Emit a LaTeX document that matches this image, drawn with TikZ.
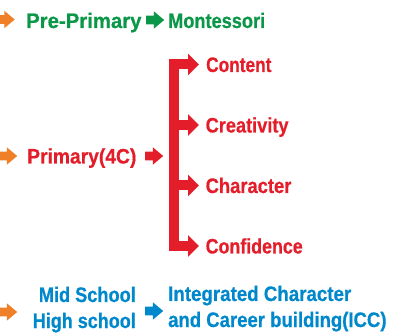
\documentclass[tikz,border=0pt]{standalone}
\usepackage{fontspec}
\setmainfont{Liberation Sans}[FakeStretch=0.857,BoldFeatures={FakeBold=0.6}]
\usetikzlibrary{shapes.arrows,arrows.meta}
\definecolor{cgreen}{RGB}{10,152,72}
\definecolor{cred}{RGB}{227,30,42}
\definecolor{cblue}{RGB}{0,136,204}
\definecolor{corange}{RGB}{240,128,40}
\tikzset{
  lbl/.style={inner sep=0pt,anchor=base west,font=\fontsize{21}{26}\selectfont\bfseries},
  blk/.style={single arrow,draw=none,fill=#1,inner sep=0pt,minimum height=18pt,
    single arrow head extend=4.25pt,single arrow tip angle=80,anchor=west},
  arm/.style={cred,line width=10pt,line join=miter},
  armboth/.style={arm,{Triangle[length=11pt,width=21pt]}-{Triangle[length=11pt,width=21pt]}},
  armend/.style={arm,-{Triangle[length=11pt,width=21pt]}}
}
\newcommand{\shaft}{\rule{0pt}{8.5pt}}
\begin{document}
\begin{tikzpicture}[x=1pt,y=-1pt]
\useasboundingbox (0,0) rectangle (412,336);
% row 1
\node[blk=corange,minimum height=16pt] (o1) at (-1.5,19.5) {\shaft};
\node[lbl,text=cgreen] (pre) at (26,28) {\scalebox{1.13}[1]{Pre-Primary}};
\node[blk=cgreen] (g1) at (146,20) {\shaft};
\node[lbl,text=cgreen] (mont) at (168,28) {\scalebox{1.01}[1]{Montessori}};
% row 2
\node[blk=corange,minimum height=18pt] (o2) at (-1,156) {\shaft};
\node[lbl,text=cred] (prim) at (27,163.5) {\scalebox{1.07}[1]{Primary(4C)}};
\node[blk=cred] (r1) at (145,156) {\shaft};
% bracket
\coordinate (b1) at (174,64.5);
\coordinate (b2) at (174,125);
\coordinate (b3) at (174,185.5);
\coordinate (b4) at (174,246);
\coordinate (t1) at (199,64.5);
\coordinate (t2) at (199,125);
\coordinate (t3) at (199,185.5);
\coordinate (t4) at (199,246);
\draw[armboth] (t1) -- (b1) -- (b4) -- (t4);
\draw[armend] (b2) -- (t2);
\draw[armend] (b3) -- (t3);
\node[lbl,text=cred] (c1) at (206,72) {\scalebox{0.96}[1]{Content}};
\node[lbl,text=cred] (c2) at (205.5,132.5) {\scalebox{1.01}[1]{Creativity}};
\node[lbl,text=cred] (c3) at (205.5,193) {\scalebox{1.02}[1]{Character}};
\node[lbl,text=cred] (c4) at (205.5,253.5) {\scalebox{0.99}[1]{Confidence}};
% row 3
\node[blk=corange,minimum height=18pt] (o3) at (-1,312) {\shaft};
\node[lbl,anchor=base east,text=cblue] (mid) at (136,302) {\scalebox{1.01}[1]{Mid School}};
\node[lbl,anchor=base east,text=cblue] (high) at (136,328) {High school};
\node[blk=cblue] (bl) at (145,311) {\shaft};
\node[lbl,text=cblue] (icc1) at (168,301) {\scalebox{1.04}[1]{Integrated Character}};
\node[lbl,text=cblue] (icc2) at (168,327) {\scalebox{1.03}[1]{and Career building(ICC)}};
\end{tikzpicture}
\end{document}
